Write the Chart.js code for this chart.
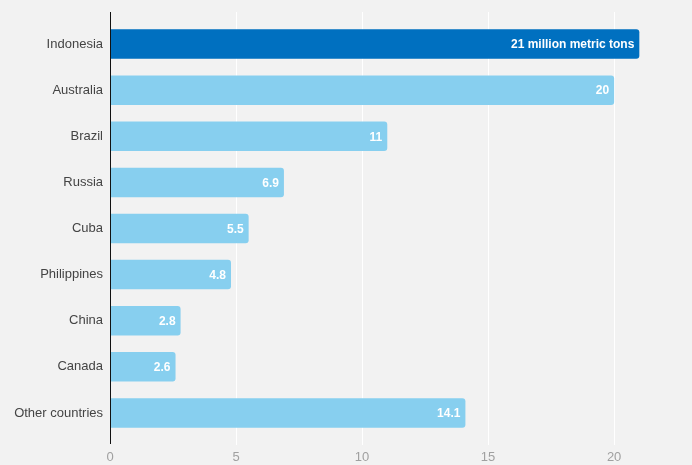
<!DOCTYPE html>
<html>
<head>
<meta charset="utf-8">
<script src="https://cdn.jsdelivr.net/npm/chart.js@4/dist/chart.umd.min.js"></script>
<style>
    html, body { margin: 0; padding: 0; background: #f2f2f2; }
    #wrap { width: 692px; height: 465px; }
</style>
</head>
<body>
<div id="wrap"><canvas id="producersChart" width="692" height="465"></canvas></div>
<script>
const countries = ["Indonesia", "Australia", "Brazil", "Russia", "Cuba", "Philippines", "China", "Canada", "Other countries"];
const production = [21, 20, 11, 6.9, 5.5, 4.8, 2.8, 2.6, 14.1];
const valueLabels = ["21 million metric tons", "20", "11", "6.9", "5.5", "4.8", "2.8", "2.6", "14.1"];
const xTicks = [0, 5, 10, 15, 20];

const barColors = countries.map((c, i) => i === 0 ? "#0070c0" : "#87cfef");

// white grid lines and the black axis line run a bit past the bars
const gridPlugin = {
    id: "gridLines",
    beforeDatasetsDraw(chart) {
        const ctx = chart.ctx;
        const x = chart.scales.x;
        ctx.save();
        ctx.strokeStyle = "#ffffff";
        ctx.lineWidth = 1;
        xTicks.forEach(t => {
            if (t === 0) return;
            const px = Math.round(x.getPixelForValue(t)) + 0.5;
            ctx.beginPath();
            ctx.moveTo(px, 12);
            ctx.lineTo(px, 445);
            ctx.stroke();
        });
        ctx.restore();
    },
    afterDatasetsDraw(chart) {
        const ctx = chart.ctx;
        const x0 = Math.round(chart.scales.x.getPixelForValue(0)) + 0.5;
        ctx.save();
        ctx.strokeStyle = "#111111";
        ctx.lineWidth = 1;
        ctx.beginPath();
        ctx.moveTo(x0, 12);
        ctx.lineTo(x0, 444);
        ctx.stroke();
        ctx.restore();
    }
};

const valueLabelPlugin = {
    id: "valueLabels",
    afterDatasetsDraw(chart) {
        const ctx = chart.ctx;
        const meta = chart.getDatasetMeta(0);
        ctx.save();
        ctx.fillStyle = "#ffffff";
        ctx.font = "bold 12px 'Liberation Sans', Arial, sans-serif";
        ctx.textAlign = "right";
        ctx.textBaseline = "middle";
        meta.data.forEach((bar, i) => {
            ctx.fillText(valueLabels[i], bar.x - 5, bar.y + 1);
        });
        ctx.restore();
    }
};

new Chart("producersChart", {
    type: "bar",
    data: {
        labels: countries,
        datasets: [
            {
                data: production,
                backgroundColor: barColors,
                borderRadius: { topRight: 3, bottomRight: 3 },
                borderSkipped: "left",
                categoryPercentage: 1,
                barPercentage: 0.64
            }
        ]
    },
    options: {
        indexAxis: "y",
        responsive: false,
        animation: false,
        events: [],
        layout: { padding: { top: 21, right: 1, bottom: 0, left: 0 } },
        plugins: {
            legend: { display: false },
            tooltip: { enabled: false }
        },
        scales: {
            x: {
                min: 0,
                max: 23.05,
                afterBuildTicks(axis) {
                    axis.ticks = xTicks.map(v => ({ value: v }));
                },
                afterFit(axis) {
                    axis.height = 29;
                },
                grid: { display: false },
                border: { display: false },
                ticks: {
                    color: "#a0a0a0",
                    padding: 6,
                    font: { family: "'Liberation Sans', Arial, sans-serif", size: 13 }
                }
            },
            y: {
                afterFit(axis) {
                    axis.width = 110;
                },
                grid: { display: false, drawTicks: false },
                border: { display: false },
                ticks: {
                    color: "#444444",
                    padding: 7,
                    font: { family: "'Liberation Sans', Arial, sans-serif", size: 13 }
                }
            }
        }
    },
    plugins: [gridPlugin, valueLabelPlugin]
});
</script>
</body>
</html>
